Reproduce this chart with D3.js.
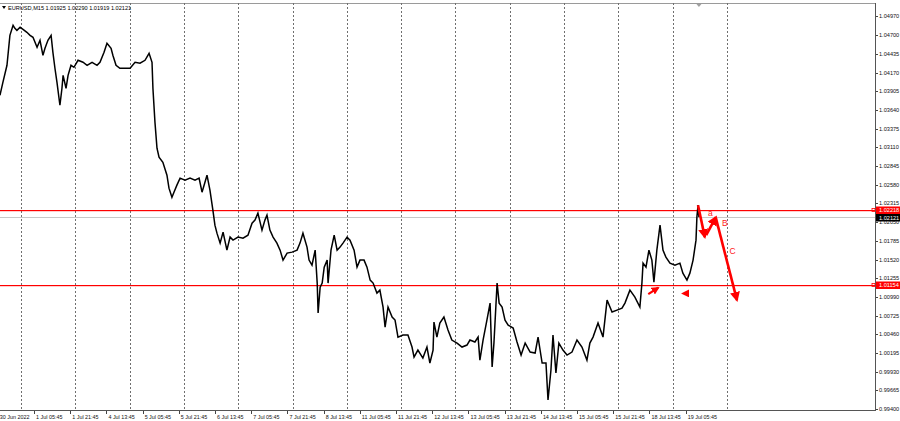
<!DOCTYPE html>
<html>
<head>
<meta charset="utf-8">
<script src="https://cdn.jsdelivr.net/npm/d3@7"></script>
<style>
  html, body { margin: 0; padding: 0; background: #fff; }
  svg { display: block; }
  text { font-family: "Liberation Sans", Arial, sans-serif; }
</style>
</head>
<body>
<svg id="chart" width="900" height="421"></svg>
<script>
// ---------- DATA ----------
const symbolTitle = "EURUSD,M15  1.01925 1.02290 1.01919 1.02121";

// time in trading hours since 30 Jun 2022 00:00 (weekends removed)
const priceHours = [
  14.7,16.0,17.8,19.1,20.5,21.3,22.2,23.6,24.9,26.6,28.0,29.3,31.1,32.4,33.7,34.6,35.9,37.3,38.1,39.0,
  39.9,41.2,42.1,42.6,43.9,44.8,46.1,47.4,49.2,51.4,53.2,55.4,57.6,58.9,60.7,62.0,63.8,64.6,66.0,67.7,
  69.9,72.2,74.4,76.6,78.8,80.6,81.9,82.3,83.2,84.1,85.0,86.7,88.5,89.4,90.7,91.6,92.9,94.3,96.5,98.7,
  100.9,102.7,104.0,105.3,106.2,107.5,108.8,109.7,110.6,112.0,113.3,115.0,116.4,117.7,119.9,122.1,124.3,126.1,127.4,128.7,
  130.5,131.8,132.7,134.0,135.4,137.1,138.5,139.8,141.6,143.8,146.0,147.3,148.6,150.4,151.3,152.6,154.0,154.9,155.3,156.2,
  157.1,158.0,159.3,159.7,161.0,162.4,163.7,165.0,166.3,168.1,169.4,171.2,172.5,173.8,175.6,176.9,178.3,179.6,181.3,182.6,
  184.0,184.9,186.2,188.0,189.3,190.6,192.8,195.0,196.8,197.7,199.4,201.6,203.4,204.7,206.1,206.5,207.8,209.1,210.9,212.7,
  214.4,216.7,218.9,221.1,222.4,224.6,226.0,226.8,228.2,229.9,231.3,232.2,233.0,234.4,235.3,236.6,237.9,239.3,241.5,243.2,
  245.0,246.8,249.0,251.2,252.5,254.3,256.0,256.9,258.2,259.1,260.4,261.7,263.5,265.3,267.5,269.7,271.9,274.1,275.4,276.8,
  279.0,281.2,283.0,285.2,287.4,289.6,290.9,293.1,295.3,297.5,298.4,298.9,300.2,301.5,302.8,303.7,305.0,306.4,307.7,309.0,
  310.8,313.0,315.2,316.5,318.3,319.6,321.0,322.3,322.7,323.2,323.6
];
const priceValues = [
  1.03850,1.04034,1.04275,1.04700,1.04842,1.04800,1.04771,1.04814,1.04785,1.04743,1.04700,1.04672,1.04530,1.04630,1.04417,1.04516,1.04630,1.04700,1.04459,1.04233,
  1.04034,1.03708,1.03949,1.04133,1.03949,1.04133,1.04275,1.04247,1.04346,1.04318,1.04275,1.04318,1.04275,1.04318,1.04459,1.04587,1.04516,1.04417,1.04275,1.04233,
  1.04233,1.04233,1.04318,1.04304,1.04346,1.04445,1.04318,1.03949,1.03467,1.03099,1.02971,1.02900,1.02716,1.02532,1.02404,1.02475,1.02575,1.02674,1.02645,1.02674,
  1.02645,1.02674,1.02475,1.02617,1.02716,1.02504,1.02220,1.02008,1.01894,1.01753,1.01908,1.01653,1.01838,1.01795,1.01838,1.01823,1.01866,1.02036,1.02079,1.02178,
  1.01937,1.02079,1.02149,1.01937,1.01838,1.01753,1.01653,1.01512,1.01611,1.01625,1.01653,1.01753,1.01894,1.01696,1.01512,1.01441,1.01653,1.01186,1.00761,1.01129,
  1.01186,1.01412,1.01512,1.01186,1.01653,1.01866,1.01653,1.01696,1.01753,1.01838,1.01795,1.01653,1.01412,1.01512,1.01512,1.01412,1.01228,1.01186,1.01044,1.01086,
  1.00846,1.00562,1.00846,1.00704,1.00661,1.00420,1.00449,1.00449,1.00279,1.00137,1.00236,1.00123,1.00279,1.00052,1.00236,1.00633,1.00420,1.00619,1.00704,1.00520,
  1.00378,1.00335,1.00279,1.00307,1.00378,1.00350,1.00420,1.00094,1.00378,1.00661,1.00902,0.99995,1.00335,1.01186,1.00902,1.00846,1.00661,1.00590,1.00548,1.00350,
  1.00165,1.00335,1.00208,1.00194,1.00420,1.00052,1.00052,0.99528,0.99953,1.00449,0.99910,1.00335,1.00236,1.00165,1.00208,1.00378,1.00279,1.00094,1.00335,1.00420,
  1.00619,1.00420,1.00945,1.00775,1.00803,1.00831,1.00902,1.01086,1.00987,1.00846,1.01186,1.01469,1.01412,1.01653,1.01512,1.01200,1.01653,1.02008,1.01653,1.01554,
  1.01469,1.01441,1.01469,1.01327,1.01228,1.01327,1.01512,1.01795,1.02121,1.02291,1.02121
];

const priceTicks = ["1.04970","1.04700","1.04435","1.04170","1.03905","1.03640","1.03375","1.03110","1.02845","1.02580",
  "1.02315","1.02050","1.01785","1.01520","1.01255","1.00990","1.00725","1.00460","1.00195","0.99930","0.99665","0.99400"];

const timeTickHours = [13.75,29.75,45.75,61.75,77.75,93.75,109.75,125.75,141.75,157.75,173.75,189.75,205.75,221.75,237.75,253.75,269.75,285.75,301.75,317.75];
const timeTickLabels = ["30 Jun 2022","1 Jul 05:45","1 Jul 21:45","4 Jul 13:45","5 Jul 05:45","5 Jul 21:45","6 Jul 13:45",
  "7 Jul 05:45","7 Jul 21:45","8 Jul 13:45","11 Jul 05:45","11 Jul 21:45","12 Jul 13:45","13 Jul 05:45","13 Jul 21:45",
  "14 Jul 13:45","15 Jul 05:45","15 Jul 21:45","18 Jul 13:45","19 Jul 05:45"];

const daySeparatorHours = [24,48,72,96,120,144,168,192,216,240,264,288,312,336];

const levelPrices = [1.02218, 1.01154];
const levelLabels = ["1.02218", "1.01154"];
const bidPrice = 1.02121;
const bidLabel = "1.02121";

// annotation arrows: [fromHour, fromPrice, toHour, toPrice]
const bigArrows = [
  [323.2, 1.02291, 326.2, 1.01838],
  [326.8, 1.01866, 331.1, 1.02121],
  [331.1, 1.02107, 340.4, 1.00945]
];
const smallArrows = [
  [301.2, 1.01030, 305.6, 1.01120],
  [320.0, 1.01040, 316.4, 1.01040]
];
const waveLabels = ["a", "B", "C"];
const waveLabelHours = [328.6, 335.0, 338.5];
const waveLabelPrices = [1.02135, 1.02000, 1.01600];

// ---------- LAYOUT ----------
const plotLeft = 0, plotRight = 875, plotTop = 3, plotBottom = 410;

const svg = d3.select("#chart");

const x = d3.scaleLinear().domain([24, 336]).range([21, 727]);
const y = d3.scaleLinear().domain([0.99400, 1.04970]).range([409, 16.3]);

const defs = svg.append("defs");
defs.append("clipPath").attr("id", "plotClip")
  .append("rect").attr("x", plotLeft).attr("y", plotTop)
  .attr("width", plotRight - plotLeft).attr("height", plotBottom - plotTop);

function arrowMarker(id, size) {
  defs.append("marker").attr("id", id)
    .attr("viewBox", "0 0 10 10").attr("refX", 8).attr("refY", 5)
    .attr("markerWidth", size).attr("markerHeight", size)
    .attr("markerUnits", "userSpaceOnUse")
    .attr("orient", "auto")
    .append("path").attr("d", "M0,0 L10,5 L0,10 Z").attr("fill", "#ff0000");
}
arrowMarker("headBig", 10);
arrowMarker("headSmall", 8);

// frame
svg.append("rect").attr("x", plotLeft).attr("y", plotTop).attr("width", plotRight - plotLeft).attr("height", 1).attr("fill", "#9a9a9a");
svg.append("rect").attr("x", plotLeft).attr("y", plotBottom).attr("width", plotRight - plotLeft + 1).attr("height", 1).attr("fill", "#555");
svg.append("rect").attr("x", plotRight).attr("y", plotTop).attr("width", 1).attr("height", plotBottom - plotTop + 1).attr("fill", "#555");

const plot = svg.append("g").attr("clip-path", "url(#plotClip)");

// day separators
plot.selectAll("line.sep").data(daySeparatorHours).enter().append("line")
  .attr("class", "sep")
  .attr("x1", d => Math.round(x(d)) + 0.5).attr("x2", d => Math.round(x(d)) + 0.5)
  .attr("y1", plotTop).attr("y2", plotBottom)
  .attr("stroke", "#6f6f6f").attr("stroke-width", 1).attr("stroke-dasharray", "2,2");

// bid line
plot.append("rect").attr("x", plotLeft).attr("width", plotRight - plotLeft)
  .attr("y", Math.round(y(bidPrice))).attr("height", 1)
  .attr("fill", "#c8c8c8");

// level lines
plot.selectAll("rect.level").data(levelPrices).enter().append("rect")
  .attr("class", "level")
  .attr("x", plotLeft).attr("width", plotRight - plotLeft)
  .attr("y", d => Math.round(y(d))).attr("height", 1.2)
  .attr("fill", "#ff0000");

// price line
const series = priceHours.map((h, i) => [h, priceValues[i]]);
plot.append("path").datum(series)
  .attr("fill", "none").attr("stroke", "#000").attr("stroke-width", 1.5)
  .attr("stroke-linejoin", "miter")
  .attr("d", d3.line().x(d => x(d[0])).y(d => y(d[1])));

// annotation arrows
plot.selectAll("line.big").data(bigArrows).enter().append("line")
  .attr("class", "big")
  .attr("x1", d => x(d[0])).attr("y1", d => y(d[1]))
  .attr("x2", d => x(d[2])).attr("y2", d => y(d[3]))
  .attr("stroke", "#ff0000").attr("stroke-width", 2.6)
  .attr("marker-end", "url(#headBig)");
plot.selectAll("line.small").data(smallArrows).enter().append("line")
  .attr("class", "small")
  .attr("x1", d => x(d[0])).attr("y1", d => y(d[1]))
  .attr("x2", d => x(d[2])).attr("y2", d => y(d[3]))
  .attr("stroke", "#ff0000").attr("stroke-width", (d, i) => i === 0 ? 2.2 : 0.01)
  .attr("marker-end", "url(#headSmall)");

svg.selectAll("text.wave").data(waveLabels).enter().append("text")
  .attr("class", "wave")
  .attr("x", (d, i) => x(waveLabelHours[i])).attr("y", (d, i) => y(waveLabelPrices[i]))
  .attr("fill", "#ff2020").attr("font-size", "8.5px").attr("text-anchor", "middle")
  .text(d => d);

// shift marker
const lastX = x(priceHours[priceHours.length - 1]);
svg.append("path").attr("d", `M${lastX - 2.5},${plotTop + 1} L${lastX + 2.5},${plotTop + 1} L${lastX},${plotTop + 4} Z`)
  .attr("fill", "#a0a0a0");

// title
svg.append("path").attr("d", "M2,6 L6,6 L4,9 Z").attr("fill", "#000");
svg.append("text").attr("x", 8).attr("y", 9.5).attr("font-size", "5.6px").attr("fill", "#000").text(symbolTitle);

// right price axis
const yAxisG = svg.append("g");
yAxisG.selectAll("rect.yt").data(priceTicks).enter().append("rect")
  .attr("class", "yt")
  .attr("x", plotRight + 1).attr("width", 2)
  .attr("y", d => Math.round(y(+d))).attr("height", 1)
  .attr("fill", "#444");
yAxisG.selectAll("text.yt").data(priceTicks).enter().append("text")
  .attr("class", "yt")
  .attr("x", plotRight + 4).attr("y", d => y(+d) + 2)
  .attr("font-size", "5.6px").attr("fill", "#111").text(d => d);

// level labels
levelPrices.forEach((p, i) => {
  const yy = Math.round(y(p));
  svg.append("rect").attr("x", plotRight - 3).attr("y", yy - 1.5).attr("width", 3).attr("height", 3)
    .attr("fill", "none").attr("stroke", "#ff0000").attr("stroke-width", 0.8);
  svg.append("rect").attr("x", plotRight + 1).attr("y", yy - 3.5).attr("width", 24).attr("height", 7.5).attr("fill", "#ff0000");
  svg.append("text").attr("x", plotRight + 4).attr("y", yy + 2.3).attr("font-size", "5.6px").attr("fill", "#fff").text(levelLabels[i]);
});
{
  const yy = Math.round(y(bidPrice));
  svg.append("rect").attr("x", plotRight + 1).attr("y", yy - 3).attr("width", 24).attr("height", 7.5).attr("fill", "#000");
  svg.append("text").attr("x", plotRight + 4).attr("y", yy + 2.8).attr("font-size", "5.6px").attr("fill", "#fff").text(bidLabel);
}

// bottom time axis
const xAxisG = svg.append("g");
xAxisG.selectAll("rect.xt").data(timeTickHours).enter().append("rect")
  .attr("class", "xt")
  .attr("x", d => Math.round(x(d))).attr("width", 1)
  .attr("y", plotBottom + 1).attr("height", 3)
  .attr("fill", "#444");
xAxisG.selectAll("text.xt").data(timeTickLabels).enter().append("text")
  .attr("class", "xt")
  .attr("x", (d, i) => x(timeTickHours[i]) + 2).attr("y", 418.5)
  .attr("font-size", "5.4px").attr("fill", "#111").text(d => d);
</script>
</body>
</html>
